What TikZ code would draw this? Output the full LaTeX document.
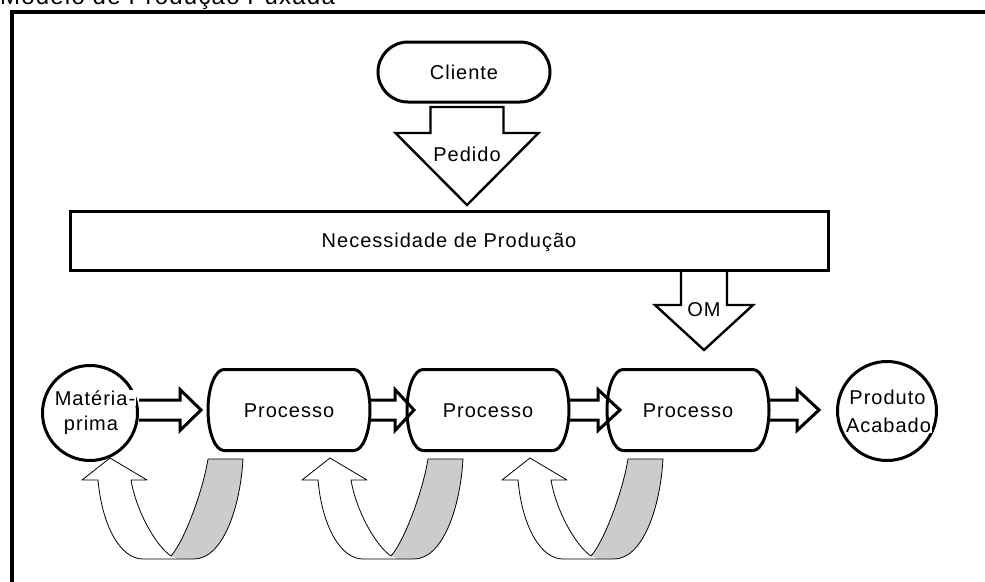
\documentclass[tikz,border=0pt]{standalone}
\usepackage{fontspec}
\setmainfont{Liberation Sans}
\newfontfamily\lblfont{Liberation Sans}[LetterSpace=5]
\usetikzlibrary{shapes.misc,calc}

\tikzset{
  lbl/.style={font=\lblfont\fontsize{20}{23}\selectfont, inner sep=0pt, text height=14.3pt, text depth=0pt},
  pill/.style={rounded rectangle, draw, line width=3pt, minimum width=172pt, minimum height=60pt, inner sep=0pt, lbl},
  procbox/.style={rectangle, minimum width=162pt, minimum height=81pt, inner sep=0pt, outer sep=0pt, lbl},
  bar/.style={rectangle, draw, line width=3pt, minimum width=758pt, minimum height=59pt, inner sep=0pt, lbl},
  stock/.style={circle, draw, line width=3pt, inner sep=0pt},
  boxline/.style={draw, line width=3pt},
  blkline/.style={draw, line width=3pt, line join=miter},
  dnline/.style={draw, line width=2.4pt, line join=miter},
  uline/.style={draw, line width=0.8pt, line join=round},
  uturn/.pic={
    % shaded back band
    \fill[gray!40] (-37,97) -- (-30,100) -- (-14,100)
      .. controls (14,100) and (32,51) .. (35,0) -- (0,0)
      .. controls (-5,31) and (-23,81) .. (-37,97) -- cycle;
    % outline of the whole returning arrow
    \draw[uline] (-61,21) -- (-98,-1) -- (-126,21) -- (-110,21)
      .. controls (-106,66) and (-88,100) .. (-65,100) -- (-14,100)
      .. controls (14,100) and (32,51) .. (35,0) -- (0,0)
      .. controls (-5,31) and (-23,81) .. (-37,97)
      .. controls (-53,86) and (-72,51) .. (-77,21) -- cycle;
  }
}

% outline of a process box: straight top and bottom, bulging ends
\newcommand\procoutline[1]{%
  \draw[boxline]
    ($(#1.north west)+(16,0)$) -- ($(#1.north east)+(-16,0)$)
    .. controls ($(#1.north east)+(-7.2,0)$) and ($(#1.east)+(0,-22.4)$) .. (#1.east)
    .. controls ($(#1.east)+(0,22.4)$) and ($(#1.south east)+(-7.2,0)$) .. ($(#1.south east)+(-16,0)$)
    -- ($(#1.south west)+(16,0)$)
    .. controls ($(#1.south west)+(7.2,0)$) and ($(#1.west)+(0,22.4)$) .. (#1.west)
    .. controls ($(#1.west)+(0,-22.4)$) and ($(#1.north west)+(7.2,0)$) .. ($(#1.north west)+(16,0)$)
    -- cycle;}

% horizontal block arrow: start point, tip point, head length
\newcommand\rarrow[3]{%
  \draw[blkline] let \p1=(#1), \p2=(#2) in
    (\x1,\y2+10) -- (\x2-#3,\y2+10) -- (\x2-#3,\y2+20.5) -- (\x2,\y2)
    -- (\x2-#3,\y2-20.5) -- (\x2-#3,\y2-10) -- (\x1,\y2-10);}

\begin{document}
\begin{tikzpicture}[x=1pt,y=-1pt]
\useasboundingbox (0,0) rectangle (985,581);
\clip (0,0) rectangle (985,581);

% outer frame and heading
\draw[line width=3.5pt] (12,12) rectangle (1200,800);
\node[anchor=base west, inner sep=0pt, font=\lblfont\fontsize{24}{27}\selectfont] (title) at (0,4) {Modelo de Produção Puxada};

% customer and production need
\node[pill] (c) at (464,72) {Cliente};
\node[bar] (n) at (449,240.5) {Necessidade de Produção};

% Pedido arrow
\coordinate (pedtop) at (466.5,107);
\coordinate (pedtip) at (467,205);
\draw[dnline] let \p1=(pedtop), \p2=(pedtip) in
  (\x2-36.5,\y1) -- (\x2-36.5,\y2+72) -- (\x2-71.5,\y2+72) -- (\x2,\y2)
  -- (\x2+71.5,\y2+72) -- (\x2+36.5,\y2+72) -- (\x2+36.5,\y1) -- cycle;
\node[lbl, fill=white, inner sep=2pt] (ped) at (467,154.5) {Pedido};

% OM arrow
\coordinate (omtip) at (704,350);
\draw[dnline] let \p1=(n.south), \p2=(omtip) in
  (\x2-23,\y1) -- (\x2-23,\y2+45) -- (\x2-49,\y2+45) -- (\x2,\y2)
  -- (\x2+49,\y2+45) -- (\x2+23,\y2+45) -- (\x2+23,\y1);
\node[lbl] (om) at (704,309) {OM};

% production line
\node[stock, minimum size=95pt] (m) at (90,413) {};
\node[procbox] (p1) at (289,410) {Processo};
\node[procbox] (p2) at (488,410) {Processo};
\node[procbox] (p3) at (688,410) {Processo};
\procoutline{p1}
\procoutline{p2}
\procoutline{p3}
\node[stock, minimum size=99pt] (f) at (887,411) {};

\node[lbl, fill=white, inner sep=1pt, anchor=base] (m1) at (95,405) {Matéria-};
\node[lbl, anchor=base] (m2) at (91,430) {prima};
\node[lbl, anchor=base] (f1) at (887.5,404) {Produto};
\node[lbl, fill=white, inner sep=1pt, anchor=base] (f2) at (888.5,432) {Acabado};

\coordinate (t1) at (201,410);
\coordinate (t2) at (414,410);
\coordinate (t3) at (620,410);
\coordinate (t4) at (819,410);
\rarrow{m.east}{t1}{21}
\rarrow{p1.east}{t2}{19}
\rarrow{p2.east}{t3}{22}
\rarrow{p3.east}{t4}{22}

% returning arrows below the line
\pic at (208,459) {uturn};
\pic at (428,459) {uturn};
\pic at (628,459) {uturn};
\end{tikzpicture}
\end{document}
